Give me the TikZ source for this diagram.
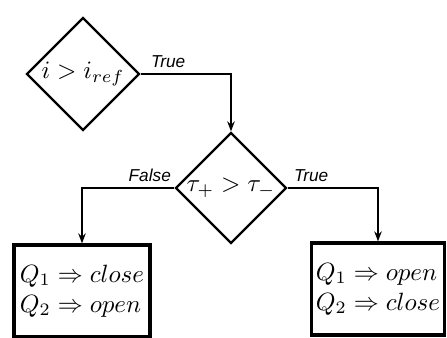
\documentclass[tikz,border=0pt]{standalone}
\usepackage{amsmath,amssymb}
\usepackage{fontspec}
\newfontfamily\lblfont{Liberation Sans}
\usetikzlibrary{shapes.geometric,arrows.meta}

\tikzset{
  decision/.style={diamond,draw,line width=0.9pt,inner sep=0pt,minimum size=#1},
  action/.style={rectangle,draw,line width=1.3pt,align=left,inner sep=1pt},
  lbl/.style={font=\lblfont\itshape\fontsize{6.9}{7}\selectfont,inner sep=0pt},
  flow/.style={line width=0.7pt,-{Stealth[length=4pt,width=3pt]}}
}

\begin{document}
\begin{tikzpicture}[x=0.4pt,y=-0.4pt]

\useasboundingbox (0,0) rectangle (447,338);

% decisions
\node[decision=45.2pt] (cmp) at (83,74) {$i > i_{ref}$};
\node[decision=44.4pt] (tau) at (231,188) {$\tau_{+} > \tau_{-}$};

% actions
\node[action,minimum width=54.4pt,minimum height=36.8pt] (left) at (82,291)
  {$Q_1 \Rightarrow close$\\$Q_2 \Rightarrow open$};
\node[action,minimum width=53.2pt,minimum height=36.8pt] (right) at (378,289)
  {$Q_1 \Rightarrow open$\\$Q_2 \Rightarrow close$};

% connectors
\draw[flow] (cmp.east) -| (tau.north);
\draw[flow] (tau.west) -| (left.north);
\draw[flow] (tau.east) -| (right.north);

% labels
\node[lbl,anchor=south west,xshift=4pt,yshift=2.4pt] (t1) at (cmp.east) {True};
\node[lbl,anchor=south east,xshift=-1.2pt,yshift=2.4pt] (f2) at (tau.west) {False};
\node[lbl,anchor=south west,xshift=2.4pt,yshift=2.4pt] (t2) at (tau.east) {True};

\end{tikzpicture}
\end{document}
